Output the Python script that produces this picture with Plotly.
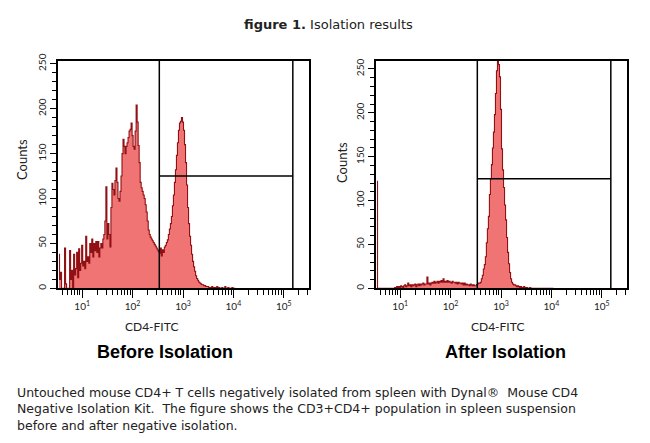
import numpy as np
import plotly.graph_objects as go

# ---------------- data ----------------
# histogram bin centres, log10 of CD4-FITC intensity (shared by both panels)
bin_log10_fitc = [
    0.54, 0.56, 0.58, 0.60, 0.62, 0.64, 0.66, 0.68, 0.70, 0.72,
    0.74, 0.76, 0.78, 0.80, 0.82, 0.84, 0.86, 0.88, 0.90, 0.92,
    0.94, 0.96, 0.98, 1.00, 1.02, 1.04, 1.06, 1.08, 1.10, 1.12,
    1.14, 1.16, 1.18, 1.20, 1.22, 1.24, 1.26, 1.28, 1.30, 1.32,
    1.34, 1.36, 1.38, 1.40, 1.42, 1.44, 1.46, 1.48, 1.50, 1.52,
    1.54, 1.56, 1.58, 1.60, 1.62, 1.64, 1.66, 1.68, 1.70, 1.72,
    1.74, 1.76, 1.78, 1.80, 1.82, 1.84, 1.86, 1.88, 1.90, 1.92,
    1.94, 1.96, 1.98, 2.00, 2.02, 2.04, 2.06, 2.08, 2.10, 2.12,
    2.14, 2.16, 2.18, 2.20, 2.22, 2.24, 2.26, 2.28, 2.30, 2.32,
    2.34, 2.36, 2.38, 2.40, 2.42, 2.44, 2.46, 2.48, 2.50, 2.52,
    2.54, 2.56, 2.58, 2.60, 2.62, 2.64, 2.66, 2.68, 2.70, 2.72,
    2.74, 2.76, 2.78, 2.80, 2.82, 2.84, 2.86, 2.88, 2.90, 2.92,
    2.94, 2.96, 2.98, 3.00, 3.02, 3.04, 3.06, 3.08, 3.10, 3.12,
    3.14, 3.16, 3.18, 3.20, 3.22, 3.24, 3.26, 3.28, 3.30, 3.32,
    3.34, 3.36, 3.38, 3.40, 3.42, 3.44, 3.46, 3.48, 3.50, 3.52,
    3.54, 3.56, 3.58, 3.60, 3.62, 3.64, 3.66, 3.68, 3.70, 3.72,
    3.74, 3.76, 3.78, 3.80, 3.82, 3.84, 3.86, 3.88, 3.90, 3.92,
    3.94, 3.96, 3.98, 4.00, 4.02, 4.04,
]

before_counts = [
    38, 10, 18, 0, 0, 0, 45, 5, 0, 0,
    0, 42, 10, 20, 0, 38, 15, 22, 40, 12,
    44, 20, 28, 48, 25, 30, 22, 58, 30, 35,
    28, 50, 40, 55, 35, 50, 42, 52, 40, 52,
    35, 45, 50, 45, 55, 60, 75, 113, 55, 72,
    60, 46, 90, 117, 110, 104, 120, 134, 118, 100,
    97, 108, 125, 150, 166, 158, 150, 158, 162, 168,
    175, 177, 184, 170, 158, 155, 175, 204, 185, 159,
    140, 118, 112, 108, 104, 100, 93, 85, 75, 65,
    60, 57, 55, 53, 51, 49, 47, 45, 43, 41,
    39, 45, 36, 43, 40, 46, 48, 51, 54, 60,
    66, 72, 80, 92, 104, 118, 132, 148, 162, 176,
    184, 186, 190, 185, 176, 160, 140, 115, 90, 72,
    58, 48, 38, 30, 24, 19, 14, 11, 9, 7,
    6, 5, 4, 4, 3, 3, 2, 2, 2, 1,
    1, 1, 2, 1, 0, 1, 0, 2, 0, 1,
    0, 0, 1, 0, 0, 2, 0, 0, 1, 0,
    0, 0, 1, 0, 0, 0,
]

after_counts = [
    122, 0, 0, 0, 0, 0, 0, 0, 0, 0,
    0, 0, 0, 0, 0, 0, 0, 0, 1, 1,
    2, 0, 2, 1, 3, 2, 1, 3, 4, 2,
    3, 6, 3, 4, 2, 4, 3, 4, 5, 2,
    4, 5, 3, 5, 4, 5, 6, 4, 5, 5,
    13, 5, 6, 4, 6, 7, 6, 8, 6, 7,
    8, 6, 8, 7, 9, 7, 11, 7, 8, 7,
    9, 7, 8, 7, 6, 8, 7, 7, 6, 7,
    5, 7, 6, 6, 5, 6, 4, 6, 4, 5,
    4, 4, 3, 5, 4, 3, 4, 3, 3, 4,
    5, 6, 6, 7, 11, 15, 22, 27, 36, 52,
    68, 82, 107, 125, 141, 160, 178, 198, 222, 248,
    262, 255, 241, 204, 159, 135, 115, 95, 78, 58,
    41, 28, 18, 11, 7, 5, 4, 4, 3, 2,
    3, 2, 1, 2, 1, 1, 2, 1, 0, 1,
    0, 0, 1, 0, 0, 0, 0, 0, 0, 0,
    0, 0, 0, 0, 0, 0, 0, 0, 0, 0,
    0, 0, 0, 0, 0, 0,
]

# gate: vertical markers (FITC) and horizontal marker (counts)
gate_fitc = [339, 151000]
gate_count = 125

x_tick_vals = [10, 100, 1000, 10000, 100000]
x_tick_text = ["10<sup>1</sup>", "10<sup>2</sup>", "10<sup>3</sup>", "10<sup>4</sup>", "10<sup>5</sup>"]
y_tick_vals = [0, 50, 100, 150, 200, 250]
minor_x_vals = [m * 10 ** e for e in range(0, 6) for m in range(2, 10)]

panel_titles = ["Before Isolation", "After Isolation"]

# ---------------- figure ----------------
W, H = 650, 443
OFF = 8  # default page margin of the html body
FILL = "rgb(240,116,116)"
EDGE = "rgb(145,16,20)"

fig = go.Figure()

fitc = 10 ** np.array(bin_log10_fitc)

panels = [
    dict(counts=before_counts, xa="x", ya="y"),
    dict(counts=after_counts, xa="x2", ya="y2"),
]

for p in panels:
    fig.add_trace(go.Scatter(
        x=fitc, y=p["counts"], xaxis=p["xa"], yaxis=p["ya"],
        mode="lines", line=dict(color=EDGE, width=1.1, shape="hvh"),
        fill="tozeroy", fillcolor=FILL, hoverinfo="skip",
    ))
    # gate lines
    fig.add_trace(go.Scatter(
        x=[gate_fitc[0], gate_fitc[0], None, gate_fitc[1], gate_fitc[1], None,
           gate_fitc[0], gate_fitc[1]],
        y=[0, 400, None, 0, 400, None, gate_count, gate_count],
        xaxis=p["xa"], yaxis=p["ya"], mode="lines",
        line=dict(color="black", width=1.5), hoverinfo="skip",
    ))


def px_x(v):
    return (v - OFF) / W


def px_y(v):
    return 1 - (v - OFF) / H


tick_font = dict(family="Lato, DejaVu Sans, sans-serif", size=10, color="#222")

xaxis_common = dict(
    type="log", range=[0.52, 5.50], showline=True, mirror=True,
    linecolor="black", linewidth=1.5, ticks="outside", ticklen=8, tickwidth=1.2,
    tickcolor="black", tickmode="array", tickvals=x_tick_vals, ticktext=x_tick_text,
    tickfont=tick_font, showgrid=False, zeroline=False,
    minor=dict(tickmode="array", tickvals=minor_x_vals, ticks="outside",
               ticklen=5, tickwidth=1.2, tickcolor="black", showgrid=False),
)
yaxis_common = dict(
    showline=True, mirror=True, linecolor="black", linewidth=1.5,
    ticks="outside", ticklen=6, tickwidth=1.2, tickcolor="black",
    tickmode="array", tickvals=y_tick_vals, tickangle=-90,
    tickfont=tick_font, showgrid=False, zeroline=False,
    minor=dict(dtick=10, ticks="outside", ticklen=4, tickwidth=1.2,
               tickcolor="black", showgrid=False),
)

ydom = [px_y(286), px_y(54)]
fig.update_layout(
    width=W, height=H, margin=dict(l=0, r=0, t=0, b=0),
    paper_bgcolor="white", plot_bgcolor="white", showlegend=False,
    xaxis=dict(domain=[px_x(58), px_x(309)], anchor="y", **xaxis_common),
    yaxis=dict(domain=ydom, anchor="x", range=[0, 253], **yaxis_common),
    xaxis2=dict(domain=[px_x(376), px_x(627)], anchor="y2", **xaxis_common),
    yaxis2=dict(domain=ydom, anchor="x2", range=[0, 259], **yaxis_common),
)

label_font = dict(family="Lato, DejaVu Sans, sans-serif", size=12, color="#222")
title_font = dict(family="Liberation Sans, Arial, sans-serif", size=18, color="black")
head_font = dict(family="DejaVu Sans, Verdana, sans-serif", size=13, color="#222")
text_font = dict(family="DejaVu Sans, Verdana, sans-serif", size=12.5, color="#222")

ann = []
# axis labels
for cx in (151, 497):
    ann.append(dict(x=px_x(cx), y=px_y(325), text="CD4-FITC", font=label_font))
for cx, cy in ((22, 155), (342, 158)):
    ann.append(dict(x=px_x(cx), y=px_y(cy), text="Counts", font=dict(label_font, size=13),
                    textangle=-90))
# panel titles
for cx, t in zip((165, 505), panel_titles):
    ann.append(dict(x=px_x(cx), y=px_y(351), text="<b>" + t + "</b>", font=title_font))
# figure title
ann.append(dict(x=px_x(328), y=px_y(17), text="<b>figure 1.</b> Isolation results",
                font=head_font))
# caption (one block of three lines)
caption_lines = [
    "Untouched mouse CD4+ T cells negatively isolated from spleen with Dynal®  Mouse CD4",
    "Negative Isolation Kit.  The figure shows the CD3+CD4+ population in spleen suspension",
    "before and after negative isolation.",
]
ann.append(dict(x=px_x(15), y=px_y(409), text="<br>".join(caption_lines),
                font=text_font, xanchor="left", align="left"))

for a in ann:
    a.setdefault("xanchor", "center")
    a.update(xref="paper", yref="paper", yanchor="middle", showarrow=False)
fig.update_layout(annotations=ann)

fig.write_html("out.html")
